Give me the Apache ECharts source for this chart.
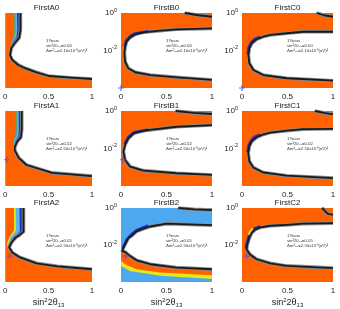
<!DOCTYPE html>
<html><head><meta charset="utf-8">
<script src="https://cdn.jsdelivr.net/npm/echarts@6/dist/echarts.min.js"></script>
<style>html,body{margin:0;padding:0;background:#fff}#c{width:340px;height:309px}</style>
</head><body><div id="c"></div>
<script>
// ---------- labels ----------
const panelNames = [['FirstA0','FirstB0','FirstC0'],['FirstA1','FirstB1','FirstC1'],['FirstA2','FirstB2','FirstC2']];
const xTicks = [0, 0.5, 1];
const xTickLabels = ['0', '0.5', '1'];
const yTickExp = [-4, -2, 0];           // log10(Δm²) ticks
const noteYears = '1Years';
const noteTheta = ['0.00', '0.02', '0.05'];
const noteDm = [['2.10','2.10','2.10'],['2.50','2.50','2.50'],['2.50','2.50','2.50']];

// ---------- contour data: [sin²2θ13, log10(Δm²)] ----------
// Column A: white region touches the top edge
const upperA0 = [[0.175,0],[0.175,-0.9],[0.16,-1.33],[0.11,-1.6]];
const lowerA0 = [[0.07,-1.87],[0.055,-2.24],[0.08,-2.5],[0.15,-2.77],[0.22,-2.93],[0.35,-3.15],[0.5,-3.36],[0.75,-3.45],[1,-3.52]];
const blueA0  = [[0.135,0],[0.14,-0.9],[0.13,-1.28],[0.09,-1.55]];
const cyanA0  = [[0.117,0],[0.12,-0.9],[0.11,-1.25],[0.08,-1.52]];
const greenA0 = [[0.1,0],[0.103,-0.9],[0.095,-1.22],[0.072,-1.5]];

const upperA1 = [[0.19,0],[0.19,-1.0],[0.18,-1.39],[0.135,-1.65]];
const lowerA1 = [[0.11,-1.92],[0.11,-2.1],[0.155,-2.5],[0.245,-2.88],[0.54,-3.3],[1,-3.47]];
const blueA1  = [[0.154,0],[0.157,-1.0],[0.15,-1.35],[0.115,-1.6]];
const cyanA1  = [[0.135,0],[0.138,-1.0],[0.13,-1.32],[0.1,-1.58]];
const greenA1 = [[0.117,0],[0.12,-1.0],[0.112,-1.3],[0.09,-1.56]];

const upperA2 = [[0.21,0],[0.21,-1.28],[0.17,-1.44],[0.12,-1.6],[0.08,-1.81],[0.06,-1.97]];
const lowerA2 = [[0.045,-2.13],[0.08,-2.4],[0.17,-2.67],[0.36,-2.99],[0.6,-3.15],[1,-3.31]];
const blueA2  = [[0.165,0],[0.168,-1.25],[0.14,-1.4],[0.09,-1.58],[0.055,-1.85],[0.04,-2.02]];
const cyanA2  = [[0.12,0],[0.123,-1.22],[0.1,-1.38],[0.065,-1.56],[0.04,-1.85],[0.03,-2.05]];
const yellowA2 = [[0.1,0],[0.102,-1.2],[0.08,-1.36],[0.05,-1.55],[0.025,-1.85],[0.02,-2.08]];

// Columns B, C: tongue-shaped white region open to the right
const whiteB0 = [[1,-0.82],[0.61,-0.87],[0.43,-0.94],[0.245,-1.03],[0.155,-1.14],[0.1,-1.3],[0.06,-1.53],[0.045,-1.8],[0.037,-2.15],[0.045,-2.6],[0.08,-2.95],[0.155,-3.16],[0.32,-3.31],[0.61,-3.43],[1,-3.57]];
const whiteB1 = [[1,-0.75],[0.61,-0.84],[0.245,-1.05],[0.14,-1.19],[0.08,-1.46],[0.044,-1.81],[0.026,-2.17],[0.044,-2.61],[0.1,-2.97],[0.245,-3.18],[0.61,-3.32],[1,-3.41]];
const whiteB2 = [[1,-0.93],[0.5,-0.85],[0.32,-1.0],[0.245,-1.12],[0.17,-1.26],[0.117,-1.5],[0.08,-1.62],[0.062,-1.8],[0.044,-1.97],[0.026,-2.15],[0.015,-2.33],[0.044,-2.38],[0.1,-2.6],[0.17,-2.83],[0.32,-3.04],[0.61,-3.22],[1,-3.31]];
const whiteC0 = [[1,-1.0],[0.67,-1.0],[0.49,-1.08],[0.31,-1.17],[0.234,-1.26],[0.16,-1.4],[0.106,-1.62],[0.08,-1.88],[0.07,-2.24],[0.08,-2.68],[0.125,-3.04],[0.234,-3.31],[0.49,-3.48],[1,-3.61]];
const whiteC1 = [[1,-0.95],[0.67,-0.97],[0.49,-1.05],[0.31,-1.15],[0.234,-1.25],[0.16,-1.4],[0.106,-1.62],[0.08,-1.88],[0.068,-2.24],[0.08,-2.68],[0.125,-3.02],[0.234,-3.28],[0.49,-3.45],[1,-3.58]];
const whiteC2 = [[1,-0.82],[0.67,-0.85],[0.49,-0.91],[0.31,-0.96],[0.2,-1.05],[0.143,-1.17],[0.106,-1.35],[0.08,-1.62],[0.058,-1.97],[0.05,-2.24],[0.088,-2.51],[0.16,-2.77],[0.31,-2.99],[0.49,-3.13],[1,-3.25]];

const blueB0 = [[0.3,-0.98],[0.155,-1.09],[0.1,-1.24],[0.058,-1.47],[0.04,-1.75]];
const blueB1 = [[0.3,-1.0],[0.14,-1.14],[0.08,-1.4],[0.04,-1.76]];
const blueB2 = [[0.3,-0.95],[0.17,-1.2],[0.11,-1.45],[0.06,-1.74],[0.035,-2.0],[0.02,-2.2]];
const blueC0 = [[0.2,-1.28],[0.14,-1.38],[0.1,-1.58],[0.072,-1.86],[0.063,-2.2]];
const blueC1 = [[0.2,-1.27],[0.14,-1.37],[0.1,-1.58],[0.072,-1.86],[0.062,-2.2]];
const blueC2 = [[0.2,-1.0],[0.13,-1.12],[0.095,-1.3],[0.07,-1.6],[0.05,-1.95],[0.042,-2.2]];
const yellowC2 = [[0.12,-1.1],[0.09,-1.26],[0.075,-1.45]];

const topB0 = [[0.7,0],[0.85,-0.12],[1,-0.2]];
const topB1 = [[0.6,0],[0.8,-0.1],[1,-0.16]];
const topB2 = [[0.63,0],[0.8,-0.07],[1,-0.11]];
const topC0 = [[0.82,0],[0.9,-0.12],[1,-0.2]];
const topC1 = [[0.8,0],[0.9,-0.1],[1,-0.18]];
const topC2 = [[0.88,0],[0.94,-0.3],[1,-0.37]];

const orangeTopB2 = [[0,-2.3],[0.044,-2.42],[0.1,-2.65],[0.17,-2.88],[0.32,-3.08],[0.61,-3.26],[1,-3.36]];
const orangeBottomB2 = [[0,-2.86],[0.044,-3.04],[0.17,-3.31],[0.43,-3.48],[1,-3.63]];
const yellowBottomB2 = [[0,-3.13],[0.1,-3.4],[0.43,-3.66],[1,-3.84]];

// best-fit markers
const markB0 = [[0,-4]], markC0 = [[0,-4]];
const markA1 = [[0.02,-2.6]], markB1 = [[0.02,-2.6]];
const markA2 = [[0.05,-2.6]], markB2 = [[0.05,-2.6]], markC2 = [[0.05,-2.6]];

// ---------- layout / style ----------
const colLeft = [1, 121, 242], rowTop = [13, 111, 208], PW = 91, PH = 75;
const ORANGE = '#ff6000', SKY = '#4ea8ee', BLUE = '#1f2fc4', CYAN = '#5cb4ea', GREEN = '#5e9f6e', YELLOW = '#e6e81a';
const FONT = 'Liberation Sans, Arial, Helvetica, sans-serif';

function poly(idx, pts, fill, z) {
  return { type: 'custom', xAxisIndex: idx, yAxisIndex: idx, z: z, silent: true, clip: true,
    data: pts,
    renderItem: function (params, api) {
      if (params.dataIndex !== 0) return null;
      return { type: 'polygon', shape: { points: pts.map(p => api.coord(p)) }, style: { fill: fill } };
    } };
}
function line(idx, pts, color, width, z) {
  return { type: 'line', xAxisIndex: idx, yAxisIndex: idx, z: z, silent: true, clip: true,
    data: pts, symbol: 'none', lineStyle: { color: color, width: width, join: 'round', cap: 'butt' } };
}
function contour(idx, pts, z) {
  return [line(idx, pts, '#8c8c8c', 3.6, z), line(idx, pts, '#1a1a1a', 1.8, z + 2)];
}
function marker(idx, pts, color) {
  return { type: 'scatter', xAxisIndex: idx, yAxisIndex: idx, z: 20, silent: true, data: pts,
    symbol: 'path://M4,0h2v10h-2zM0,4h10v2h-10z', symbolSize: 6, itemStyle: { color: color } };
}

const grids = [], xAxes = [], yAxes = [], series = [], graphics = [];
for (let r = 0; r < 3; r++) for (let c = 0; c < 3; c++) {
  const idx = r * 3 + c;
  grids.push({ left: colLeft[c], top: rowTop[r], width: PW, height: PH, show: true,
    backgroundColor: (r === 2 && c === 1) ? SKY : ORANGE, borderWidth: 0 });
  const xa = { gridIndex: idx, type: 'value', min: 0, max: 1, interval: 0.5,
    axisLine: { show: false }, axisTick: { show: false }, splitLine: { show: false },
    axisLabel: { fontSize: 8, color: '#222', margin: 5, fontFamily: FONT, showMinLabel: true, showMaxLabel: true,
      formatter: v => xTickLabels[xTicks.indexOf(v)] } };
  if (r === 2) {
    Object.assign(xa, { name: '{a|sin}{s|2}{a|2θ}{u|13}', nameLocation: 'middle', nameGap: 15,
      nameTextStyle: { fontFamily: FONT, color: '#222', rich: {
        a: { fontSize: 9, color: '#222', fontFamily: FONT },
        s: { fontSize: 6, color: '#222', fontFamily: FONT, padding: [0, 0, 5, 0] },
        u: { fontSize: 6, color: '#222', fontFamily: FONT, padding: [5, 0, 0, 0] } } } });
  }
  xAxes.push(xa);
  yAxes.push({ gridIndex: idx, type: 'value', min: -4, max: 0, interval: 2,
    axisLine: { show: false }, axisTick: { show: false }, splitLine: { show: false },
    axisLabel: { show: c > 0, margin: 4, color: '#222', fontFamily: FONT,
      formatter: v => (v === yTickExp[0] ? '' : '{b|10}{s|' + v + '}'),
      rich: { b: { fontSize: 8, color: '#222', fontFamily: FONT },
              s: { fontSize: 5.5, color: '#222', fontFamily: FONT, padding: [0, 0, 6, 0] } } } });
  graphics.push({ type: 'text', x: colLeft[c] + PW / 2, y: rowTop[r] - 5, silent: true,
    style: { text: panelNames[r][c], fontSize: 8, fontFamily: FONT, fill: '#222', align: 'center', verticalAlign: 'middle' } });
  graphics.push({ type: 'text', x: colLeft[c] + 45, y: rowTop[r] + 25, silent: true, z: 30,
    style: { text: noteYears + '\nsin²2θ₁₃=' + noteTheta[r] + '\nΔm²₃₂=' + noteDm[r][c] + 'x10⁻³(eV)²',
      fontSize: 4.3, lineHeight: 5, fontFamily: FONT, fill: '#333' } });
}

// Column A panels
function colA(idx, upper, lower, bands) {
  bands.forEach((b, i) => series.push(poly(idx, b[0].concat(lower, [[1, 0]]), b[1], 2 + i)));
  const curve = upper.concat(lower);
  series.push(poly(idx, curve.concat([[1, 0]]), '#ffffff', 6));
  series.push(...contour(idx, curve, 7));
}
colA(0, upperA0, lowerA0, [[greenA0, GREEN], [cyanA0, CYAN], [blueA0, BLUE]]);
colA(3, upperA1, lowerA1, [[greenA1, GREEN], [cyanA1, CYAN], [blueA1, BLUE]]);
colA(6, upperA2, lowerA2, [[yellowA2, YELLOW], [cyanA2, CYAN], [blueA2, BLUE]]);

// B2 bands below the tongue
series.push(poly(7, orangeTopB2.concat(yellowBottomB2.slice().reverse()), YELLOW, 2));
series.push(poly(7, orangeTopB2.concat(orangeBottomB2.slice().reverse()), ORANGE, 3));

// Columns B, C
function colBC(idx, white, blue, top) {
  series.push(poly(idx, white, '#ffffff', 6));
  series.push(line(idx, white, '#8c8c8c', 3.6, 7));
  series.push(line(idx, blue, BLUE, 2.6, 8));
  series.push(line(idx, white, '#1a1a1a', 1.8, 9));
  series.push(...contour(idx, top, 7));
}
colBC(1, whiteB0, blueB0, topB0);
colBC(2, whiteC0, blueC0, topC0);
colBC(4, whiteB1, blueB1, topB1);
colBC(5, whiteC1, blueC1, topC1);
colBC(7, whiteB2, blueB2, topB2);
colBC(8, whiteC2, blueC2, topC2);
series.push(line(8, yellowC2, YELLOW, 2, 8));

series.push(marker(1, markB0, '#3b4cff'), marker(2, markC0, '#3b4cff'),
  marker(3, markA1, '#8a3fb0'), marker(4, markB1, '#8a3fb0'),
  marker(6, markA2, '#8a3fb0'), marker(7, markB2, '#8a3fb0'), marker(8, markC2, '#8a3fb0'));

const chart = echarts.init(document.getElementById('c'), null, { renderer: 'canvas' });
chart.setOption({ animation: false, textStyle: { fontFamily: FONT },
  grid: grids, xAxis: xAxes, yAxis: yAxes, series: series, graphic: graphics });
</script></body></html>
